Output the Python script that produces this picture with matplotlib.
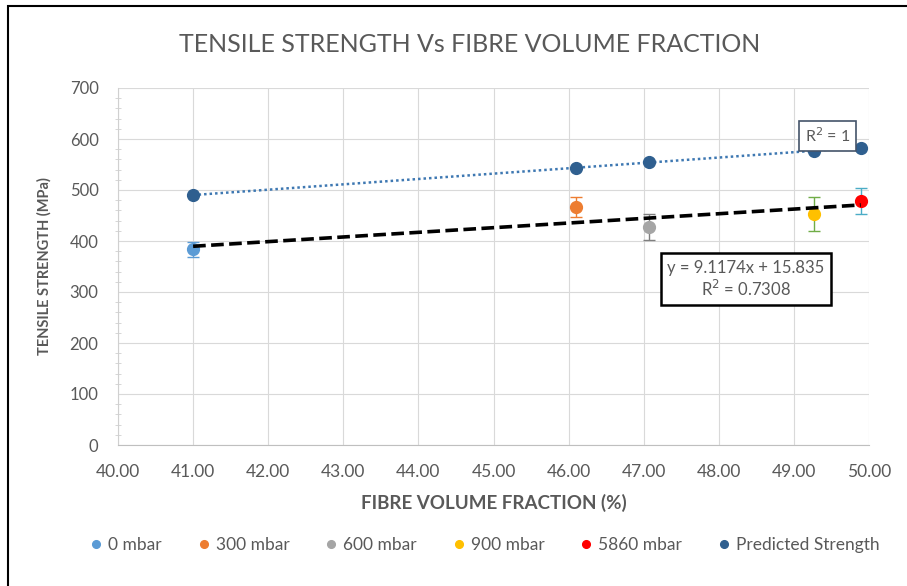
import numpy as np
import matplotlib.pyplot as plt
from matplotlib.patches import Rectangle

plt.rcParams['font.family'] = ['Lato', 'DejaVu Sans']

# measured samples (vacuum pressure groups)
labels = ['0 mbar', '300 mbar', '600 mbar', '900 mbar', '5860 mbar']
vf = [41.0, 46.1, 47.07, 49.27, 49.89]
strength = [384, 467, 427, 453, 478]
err = [15, 20, 26, 33, 26]
colors = ['#5B9BD5', '#ED7D31', '#A5A5A5', '#FFC000', '#FF0000']
err_colors = ['#5B9BD5', '#ED7D31', '#7F7F7F', '#70AD47', '#4BACC6']

# predicted strength
pred_vf = [41.0, 46.1, 47.07, 49.27, 49.89]
pred_strength = [490, 543, 555, 577, 583]

# trendline of measured values (from the chart)
slope, intercept = 9.1174, 15.835

grey = '#595959'

fig = plt.figure(figsize=(9.07, 5.86), dpi=100)
ax = fig.add_axes([118 / 907, 1 - 445 / 586, (869 - 118) / 907, (445 - 88) / 586])

for x, y, e, c, ec, lab in zip(vf, strength, err, colors, err_colors, labels):
    ax.errorbar(x, y, yerr=e, fmt='none', ecolor=ec, elinewidth=1, capsize=4, zorder=3)
    ax.plot(x, y, 'o', color=c, ms=8.5, label=lab, zorder=4)

ax.plot(pred_vf, pred_strength, 'o', color='#2F5F8F', ms=8.5, label='Predicted Strength', zorder=4)

# trendlines
xs = np.array([min(vf), max(vf)])
ax.plot(xs, slope * xs + intercept, color='black', lw=2.6, ls=(0, (3.5, 1.5)), zorder=5)
p = np.polyfit(pred_vf, pred_strength, 1)
xp = np.array([min(pred_vf), max(pred_vf)])
ax.plot(xp, np.polyval(p, xp), color='#3E78B2', lw=1.8, ls=(0, (1, 1.2)), zorder=3)

ax.set_xlim(40, 50)
ax.set_ylim(0, 700)
ax.set_xticks(np.arange(40, 50.1, 1))
ax.set_xticklabels(['%.2f' % v for v in np.arange(40, 50.1, 1)])
ax.set_yticks(np.arange(0, 701, 100))
ax.set_yticks(np.arange(0, 701, 20), minor=True)
ax.grid(True, color='#D9D9D9', lw=0.8)
ax.set_axisbelow(True)

for s in ['top', 'right']:
    ax.spines[s].set_visible(False)
ax.spines['left'].set_color('#D0D0D0')
ax.spines['bottom'].set_color('#BFBFBF')
ax.tick_params(axis='x', which='major', length=0, labelsize=12.5, labelcolor=grey, pad=14)
ax.tick_params(axis='y', which='minor', length=4, direction='inout', color='#D0D0D0')
ax.tick_params(axis='y', which='major', length=0, labelsize=12, labelcolor=grey, pad=14)

ax.set_xlabel('FIBRE VOLUME FRACTION (%)', fontsize=13.5, fontweight='bold', color=grey, labelpad=10)
ax.set_ylabel('TENSILE STRENGTH (MPa)', fontsize=10.5, fontweight='bold', color=grey, labelpad=13)
fig.text(470 / 907, 1 - 45 / 586, 'TENSILE STRENGTH Vs FIBRE VOLUME FRACTION', ha='center', va='center',
         fontsize=18, color=grey)

ax.text(49.45, 606, 'R$^2$ = 1', ha='center', va='center', fontsize=11.5, color=grey,
        bbox=dict(boxstyle='square,pad=0.35', fc='white', ec='#44546A', lw=1.2), zorder=6)
ax.text(48.36, 325, 'y = 9.1174x + 15.835\nR$^2$ = 0.7308', ha='center', va='center', fontsize=12,
        color=grey, linespacing=1.15,
        bbox=dict(boxstyle='square,pad=0.4', fc='white', ec='black', lw=1.8), zorder=6)

fig.legend(loc='center', bbox_to_anchor=(0.534, 1 - 545 / 586), ncol=6, frameon=False,
           fontsize=12.5, handlelength=0.8, handletextpad=0.3, columnspacing=2.0,
           markerscale=0.65, labelcolor=grey)

# outer frame
fig.patches.append(Rectangle((8 / 907, -0.5), 2, 0.5 + 1 - 6 / 586, transform=fig.transFigure,
                             fill=False, ec='black', lw=1.5))

fig.savefig('out.png', dpi=100)
